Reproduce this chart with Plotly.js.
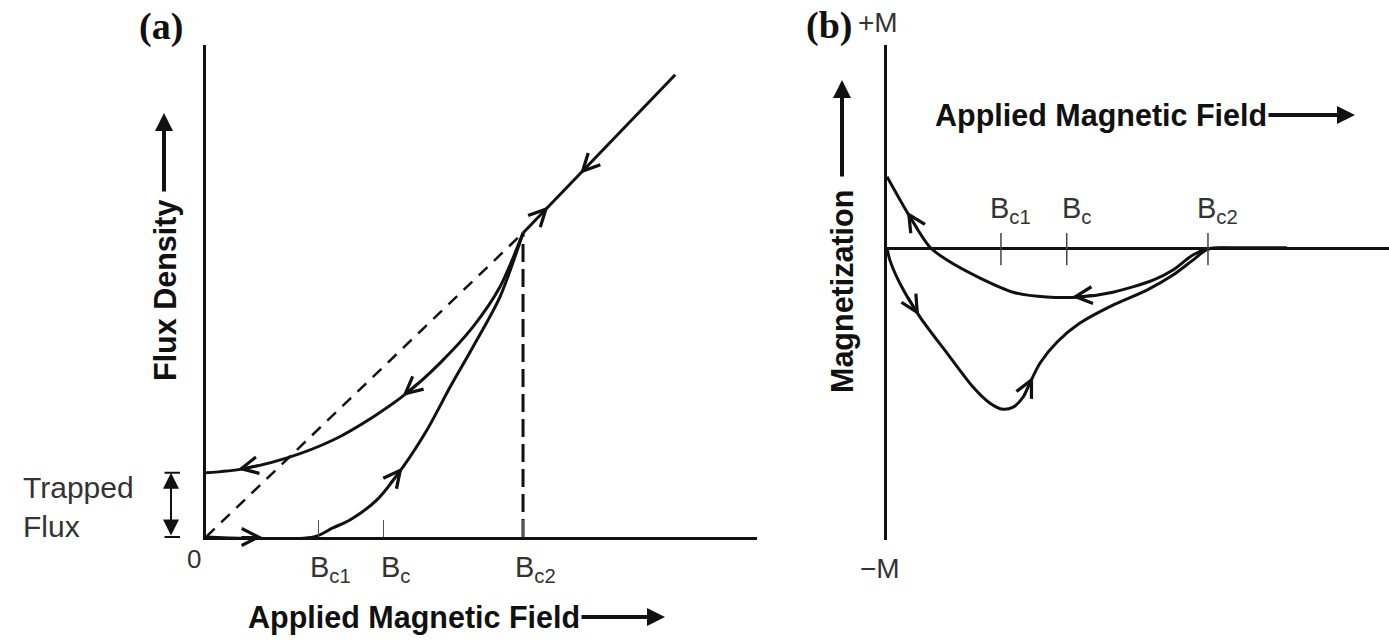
<!DOCTYPE html>
<html><head><meta charset="utf-8">
<script src="https://cdn.plot.ly/plotly-3.0.1.min.js"></script>
<style>html,body{margin:0;padding:0;background:#fff}#chart{width:1389px;height:643px}</style>
</head><body><div id="chart"></div>
<script>
// Characteristic fields (same field scale in both panels)
const fieldTicks = [3.55, 5.6, 10.0];
const fieldTickLabels = ['B<sub>c1</sub>', 'B<sub>c</sub>', 'B<sub>c2</sub>'];

// Panel (a): flux density vs applied magnetic field
const fieldA_inc = [0, 3.4, 4.0, 4.54, 5.39, 6.21, 6.97, 7.70, 8.42, 9.27, 10.0];
const fluxA_inc  = [0, 0, 0.3, 0.56, 1.22, 2.30, 3.52, 4.93, 6.25, 7.89, 10.0];
const fieldA_dec = [0, 1.17, 2.56, 4.01, 5.27, 6.34, 7.38, 8.42, 9.27, 10.0];
const fluxA_dec  = [2.11, 2.24, 2.60, 3.19, 3.95, 4.74, 5.72, 6.91, 8.22, 10.0];
const fieldA_normal = [10.0, 14.8];
const fluxA_normal  = [10.0, 15.2];
const fieldA_meissner = [0, 10.0];
const fluxA_meissner  = [0, 10.0];
const trappedFlux = 2.11;

// Panel (b): magnetization vs applied magnetic field
const fieldB_inc = [0, 0.09, 0.40, 1.03, 1.87, 2.68, 3.21, 3.61, 3.93, 4.24, 4.45, 4.77, 5.30, 6.01, 7.04, 8.10, 8.91, 9.53, 10.0, 11.0, 12.46];
const magB_inc   = [0, -0.40, -1.17, -2.30, -3.50, -4.63, -5.17, -5.37, -5.30, -4.97, -4.50, -3.83, -3.13, -2.50, -1.90, -1.40, -0.90, -0.40, -0.03, 0, 0];
const fieldB_dec = [0, 0.72, 1.34, 1.87, 2.90, 3.93, 4.98, 6.01, 7.04, 8.29, 8.91, 9.53, 10.0, 11.0, 12.46];
const magB_dec   = [2.38, 1.03, 0.03, -0.40, -1.0, -1.47, -1.63, -1.63, -1.47, -1.07, -0.73, -0.23, -0.03, 0, 0];

// Direction arrows on curves: [field position, +1 = increasing field, -1 = decreasing]
const arrowsA_inc = [[1.77, 1], [6.2, 1]];
const arrowsA_dec = [[1.0, -1], [6.2, -1]];
const arrowsA_normal = [[10.8, 1], [11.8, -1]];
const arrowsB_inc = [[1.0, 1], [4.55, 1]];
const arrowsB_dec = [[0.62, -1], [5.76, -1]];

const W = 1389, H = 643;
const px = v => v / W;
const py = v => 1 - v / H;
const INK = '#111';
const SANS = 'Liberation Sans, Arial, sans-serif';

function interp(xs, ys, x) {
  for (let i = 0; i < xs.length - 1; i++) {
    if (x >= xs[i] && x <= xs[i + 1]) {
      const t = (x - xs[i]) / (xs[i + 1] - xs[i]);
      return ys[i] + t * (ys[i + 1] - ys[i]);
    }
  }
  return ys[ys.length - 1];
}
// sx, sy: approximate pixels per data unit, only used to give each arrow shaft a visible length
function dirArrows(xs, ys, list, xr, yr, sx, sy) {
  return list.map(([f, d]) => {
    const yt = interp(xs, ys, f);
    let back = f, yb = yt, step = 0;
    while (step < 200) {
      step++;
      back = f - d * 0.02 * step;
      yb = interp(xs, ys, back);
      if (Math.hypot((f - back) * sx, (yt - yb) * sy) >= 22) break;
    }
    return {
      xref: xr, yref: yr, axref: xr, ayref: yr,
      x: f, y: yt, ax: back, ay: yb,
      text: '', showarrow: true, arrowhead: 5, arrowsize: 1.65, arrowwidth: 2,
      arrowcolor: INK, standoff: 0
    };
  });
}

const curve = (x, y, xa, ya, extra) => Object.assign({
  x, y, xaxis: xa, yaxis: ya, mode: 'lines', hoverinfo: 'skip',
  line: { color: INK, width: 3, shape: 'spline', smoothing: 0.8 }
}, extra || {});

const data = [
  curve(fieldA_meissner, fluxA_meissner, 'x', 'y', { line: { color: INK, width: 2.5, dash: '12px,9px' } }),
  curve([fieldTicks[2], fieldTicks[2]], [0, fluxA_dec[fluxA_dec.length - 1]], 'x', 'y', { line: { color: INK, width: 3, dash: '18px,7px' } }),
  curve(fieldA_inc, fluxA_inc, 'x', 'y'),
  curve(fieldA_dec, fluxA_dec, 'x', 'y'),
  curve(fieldA_normal, fluxA_normal, 'x', 'y', { line: { color: INK, width: 3 } }),
  curve(fieldB_inc, magB_inc, 'x2', 'y2'),
  curve(fieldB_dec, magB_dec, 'x2', 'y2')
];

const annotations = [].concat(
  dirArrows(fieldA_inc, fluxA_inc, arrowsA_inc, 'x', 'y', 31.7, 30.4),
  dirArrows(fieldA_dec, fluxA_dec, arrowsA_dec, 'x', 'y', 31.7, 30.4),
  dirArrows(fieldA_normal, fluxA_normal, arrowsA_normal, 'x', 'y', 31.7, 30.4),
  dirArrows(fieldB_inc, magB_inc, arrowsB_inc, 'x2', 'y2', 32.1, 30),
  dirArrows(fieldB_dec, magB_dec, arrowsB_dec, 'x2', 'y2', 32.1, 30)
);

// tick labels
fieldTicks.forEach((v, i) => {
  annotations.push({ xref: 'x', yref: 'paper', x: v, y: py(569), xanchor: 'center', yanchor: 'middle', xshift: 12,
    text: fieldTickLabels[i], showarrow: false, font: { family: SANS, size: 29, color: '#333' } });
  annotations.push({ xref: 'x2', yref: 'paper', x: v, y: py(210), xanchor: 'center', yanchor: 'middle', xshift: 10,
    text: fieldTickLabels[i], showarrow: false, font: { family: SANS, size: 29, color: '#333' } });
});

const label = (text, x, y, opts) => Object.assign({ xref: 'paper', yref: 'paper', x: px(x), y: py(y), text, showarrow: false,
  xanchor: 'center', yanchor: 'middle', font: { family: SANS, size: 28, color: '#333' } }, opts || {});
const pArrow = (x, y, ax, ay) => ({ xref: 'paper', yref: 'paper', x: px(x), y: py(y), ax, ay, text: '', showarrow: true,
  arrowhead: 2, arrowsize: 0.9, arrowwidth: 4, arrowcolor: INK, standoff: 0 });
const bold = { family: SANS, size: 30.5, color: INK, weight: 'bold' };

annotations.push(
  label('(a)', 161, 27, { font: { family: 'Liberation Serif, serif', size: 38, color: INK, weight: 'bold' } }),
  label('(b)', 829, 26, { font: { family: 'Liberation Serif, serif', size: 38, color: INK, weight: 'bold' } }),
  label('+M', 856, 22, { xanchor: 'left' }),
  label('\u2212M', 880, 568),
  label('0', 194, 559, { font: { family: SANS, size: 26, color: '#333' } }),
  label('Trapped<br>Flux', 21, 507, { xanchor: 'left', align: 'left', font: { family: SANS, size: 30, color: '#333' } }),
  label('Applied Magnetic Field', 246, 617, { xanchor: 'left', font: bold }),
  pArrow(665, 617, -85, 0),
  label('Flux Density', 165, 291, { textangle: -90, font: bold }),
  pArrow(164, 113, 0, 80),
  label('Applied Magnetic Field', 933, 115, { xanchor: 'left', font: bold }),
  pArrow(1355, 115, -88, 0),
  label('Magnetization', 842, 292, { textangle: -90, font: bold }),
  pArrow(842, 80, 0, 98)
);

// trapped flux double arrow and end bars
annotations.push(
  { xref: 'paper', yref: 'y', x: px(171), y: trappedFlux, axref: 'pixel', ayref: 'y', ax: 0, ay: 0, text: '', showarrow: true,
    arrowside: 'end+start', arrowhead: 2, startarrowhead: 2, arrowsize: 1.6, startarrowsize: 1.6, arrowwidth: 2, arrowcolor: INK, standoff: 0, startstandoff: 0 },
  { xref: 'paper', yref: 'y', x: px(180), y: trappedFlux, ax: -17, ay: 0, text: '', showarrow: true, arrowhead: 0, arrowwidth: 2, arrowcolor: INK, standoff: 0 },
  { xref: 'paper', yref: 'y', x: px(180), y: 0, ax: -17, ay: 0, text: '', showarrow: true, arrowhead: 0, arrowwidth: 2, arrowcolor: INK, standoff: 0 }
);

const shapes = fieldTicks.map(v => ({ type: 'line', xref: 'x2', yref: 'y2', x0: v, x1: v, y0: -0.57, y1: 0.5,
  line: { color: '#444', width: 1.5 } }));

const axBase = { showgrid: false, zeroline: false, showticklabels: false, ticks: '', fixedrange: true };
const layout = {
  width: W, height: H, margin: { l: 0, r: 0, t: 0, b: 0 },
  paper_bgcolor: '#fff', plot_bgcolor: 'rgba(0,0,0,0)', showlegend: false,
  xaxis: Object.assign({}, axBase, { domain: [px(206), px(757)], range: [0, 17.38], anchor: 'y',
    showline: true, linewidth: 3, linecolor: INK, ticks: 'inside', ticklen: 17, tickwidth: 1.5, tickcolor: '#555',
    tickmode: 'array', tickvals: fieldTicks }),
  yaxis: Object.assign({}, axBase, { domain: [py(537), py(45)], range: [0, 16.18], anchor: 'x',
    showline: true, linewidth: 3, linecolor: INK }),
  xaxis2: Object.assign({}, axBase, { domain: [px(887), 1], range: [0, 15.64], anchor: 'y2' }),
  yaxis2: Object.assign({}, axBase, { domain: [py(540), py(45)], range: [-9.73, 6.77], anchor: 'x2',
    showline: true, linewidth: 3, linecolor: INK, zeroline: true, zerolinewidth: 3, zerolinecolor: INK }),
  annotations, shapes
};

Plotly.newPlot('chart', data, layout, { displayModeBar: false, staticPlot: true });
</script></body></html>
